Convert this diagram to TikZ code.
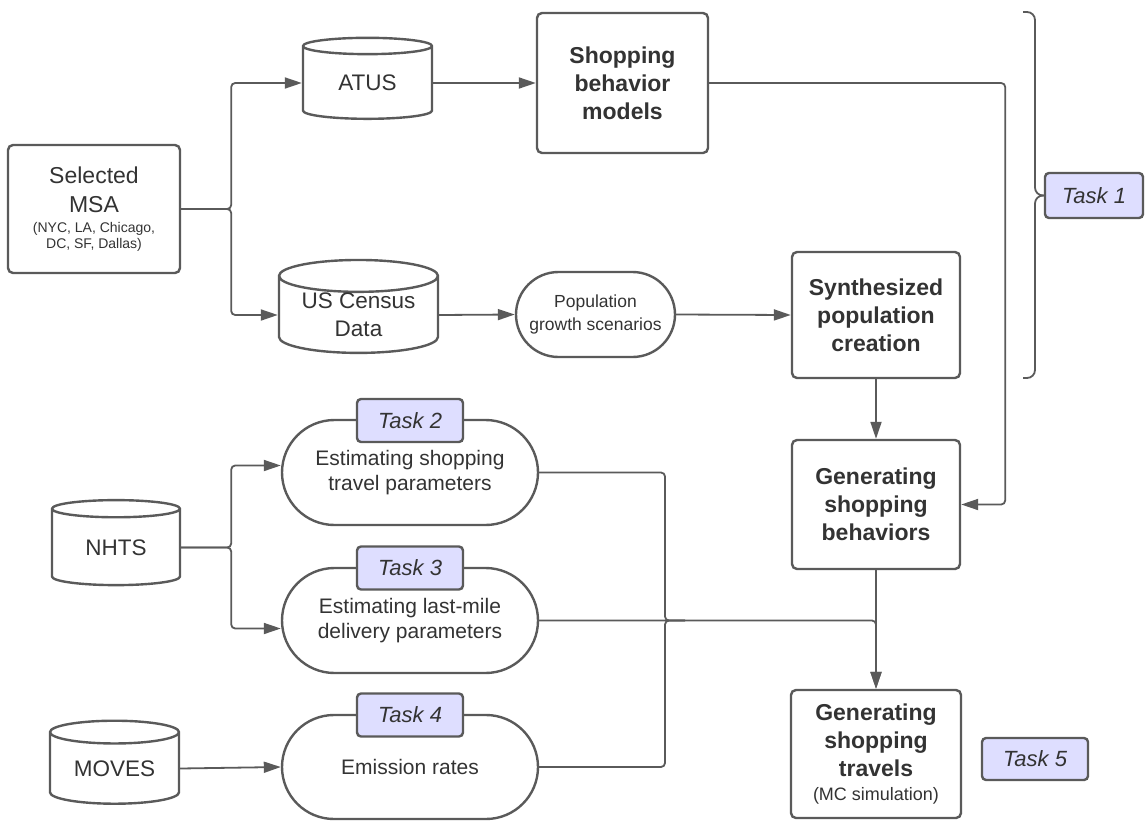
\documentclass[tikz,border=0pt]{standalone}
\usepackage{fontspec}
\setmainfont{Liberation Sans}
\usetikzlibrary{shapes.geometric,shapes.misc,arrows.meta}
\definecolor{linegray}{RGB}{90,90,90}
\definecolor{textgray}{RGB}{51,51,51}
\definecolor{taskfill}{RGB}{222,222,255}

\tikzset{
  box/.style={draw=linegray, line width=2.4pt, rounded corners=5pt, fill=white, text=textgray,
    align=center, inner sep=0pt, font=\fontsize{23}{28}\selectfont\bfseries},
  db/.style={cylinder, shape border rotate=90, aspect=0.28, draw=linegray, line width=2.4pt,
    fill=white, text=textgray, align=center, inner sep=0pt, font=\fontsize{22.5}{28}\selectfont},
  pill/.style={rounded rectangle, draw=linegray, line width=2.4pt, fill=white, text=textgray,
    align=center, inner sep=0pt},
  tasklbl/.style={draw=linegray, line width=2.4pt, rounded corners=4pt, fill=taskfill, text=textgray,
    inner sep=0pt, font=\fontsize{22}{26}\selectfont\itshape},
  conn/.style={draw=linegray, line width=1.8pt, rounded corners=4pt, -{Triangle[length=17pt,width=11pt]}},
  wire/.style={draw=linegray, line width=1.8pt, rounded corners=4pt}
}
\newcommand{\msasmall}{\fontsize{14}{16}\selectfont}

\begin{document}
\begin{tikzpicture}[x=1pt, y=-1pt]
          \useasboundingbox (0,0) rectangle (1146,822);
          \node[box, minimum width=172pt, minimum height=128pt, font=\fontsize{23}{29}\selectfont] (msa) at (94,209)
            {Selected\\MSA\\[-9pt]{\msasmall (NYC, LA, Chicago,}\\[-13pt]{\msasmall DC, SF, Dallas)}};
          \node[db, minimum width=129pt, minimum height=81pt] (atus) at (367.5,83) {ATUS};
          \node[box, minimum width=171pt, minimum height=140pt] (sbm) at (622.5,83) {Shopping\\behavior\\models};
          \node[db, minimum width=159pt, minimum height=84pt] (census) at (358.5,315) {US Census\\Data};
          \node[pill, minimum width=159pt, minimum height=85pt, font=\fontsize{17.5}{22.5}\selectfont] (pop) at (595.5,314.5)
            {Population\\growth scenarios};
          \node[box, minimum width=168pt, minimum height=126pt] (synth) at (876,315) {Synthesized\\population\\creation};
          \node[box, minimum width=168pt, minimum height=129pt] (gsb) at (876,504.5) {Generating\\shopping\\behaviors};
          \node[box, minimum width=170pt, minimum height=128pt] (gst) at (876,754)
            {Generating\\shopping\\travels\\[-4pt]{\fontsize{18}{24}\mdseries\selectfont (MC simulation)}};
          \node[db, minimum width=128pt, minimum height=85pt] (nhts) at (116,547.5) {NHTS};
          \node[db, minimum width=129pt, minimum height=83pt] (moves) at (114.5,768.5) {MOVES};
          \node[pill, minimum width=256pt, minimum height=105pt, font=\fontsize{21}{25.5}\selectfont] (est2) at (410,472.5)
            {Estimating shopping\\travel parameters};
          \node[pill, minimum width=256pt, minimum height=105pt, font=\fontsize{21}{25.5}\selectfont] (est3) at (410,620.5)
            {Estimating last-mile\\delivery parameters};
          \node[pill, minimum width=256pt, minimum height=104pt, font=\fontsize{21}{25.5}\selectfont] (emis) at (410,767)
            {Emission rates};
          \node[tasklbl, minimum width=106pt, minimum height=43pt] (task2) at (410,420.5) {Task 2};
          \node[tasklbl, minimum width=106pt, minimum height=43pt] (task3) at (410,568) {Task 3};
          \node[tasklbl, minimum width=106pt, minimum height=43pt] (task4) at (410,715) {Task 4};
          \node[tasklbl, minimum width=98pt, minimum height=45pt] (task1) at (1094,195.5) {Task 1};
          \node[tasklbl, minimum width=106pt, minimum height=42pt] (task5) at (1035,759) {Task 5};
          \coordinate (mrg) at (665,620.5);
          \draw[conn] (msa.east) -- ++(50,0) |- (atus.west);
          \draw[conn] (msa.east) -- ++(50,0) |- (census.west);
          \draw[conn] (atus.east) -- (sbm.west);
          \draw[conn] (census.east) -- (pop.west);
          \draw[conn] (pop.east) -- (synth.west);
          \draw[conn] (synth.south) -- (gsb.north);
          \draw[conn] (sbm.east) -- ++(296,0) |- (gsb.east);
          \draw[conn] (nhts.east) -- ++(50,0) |- ([yshift=7pt]est2.west);
          \draw[conn] (nhts.east) -- ++(50,0) |- ([yshift=-8pt]est3.west);
          \draw[conn] (moves.east) -- (emis.west);
          \draw[wire] (est2.east) -| (mrg) -- ++(20,0);
          \draw[wire] (emis.east) -| (mrg) -- ++(20,0);
          \draw[conn] (est3.east) -- (mrg) -- (mrg -| gst.north) -- (gst.north);
          \draw[conn] (gsb.south) -- (gst.north);
          \draw[wire, rounded corners=8pt] (1023,12) -- (1035,12) -- (1035,195.5) -- (task1.west);
          \draw[wire, rounded corners=8pt] (1023,378) -- (1035,378) -- (1035,195.5) -- (task1.west);
    \end{tikzpicture}
\end{document}
